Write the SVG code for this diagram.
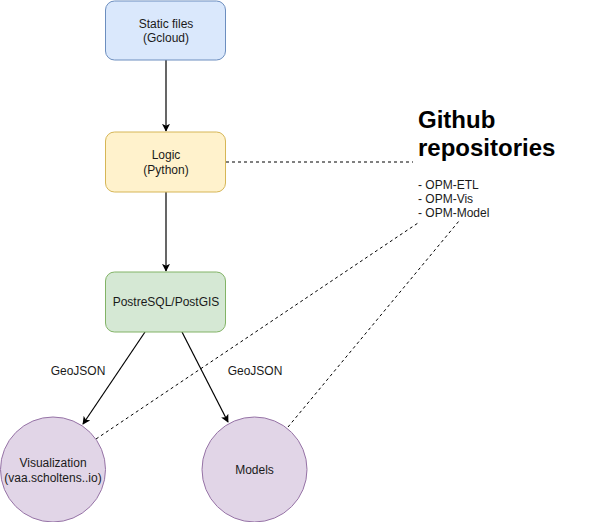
<svg xmlns="http://www.w3.org/2000/svg" width="605" height="522" viewBox="0 0 605 522">
<defs>
<style>
text{font-family:"Liberation Sans",Arial,sans-serif;font-size:12px;fill:#1a1a1a}
.c{text-anchor:middle}
.edge{stroke:#000;stroke-width:1.2;fill:none}
.dash{stroke:#000;stroke-width:1;fill:none;stroke-dasharray:3 3}
.title{font-size:24px;font-weight:bold;fill:#000}
</style>
<marker id="arr" viewBox="0 0 10 10" refX="9" refY="5" markerWidth="8" markerHeight="8" markerUnits="userSpaceOnUse" orient="auto">
<path d="M0,0 L10,5 L0,10 L2.5,5 Z" fill="#000"/>
</marker>
</defs>
<rect width="605" height="522" fill="#fff"/>
<g id="connectors">
<line class="edge" x1="166" y1="60" x2="166" y2="131" marker-end="url(#arr)"/>
<line class="edge" x1="166" y1="192" x2="166" y2="271" marker-end="url(#arr)"/>
<line class="edge" x1="145" y1="332" x2="83" y2="424" marker-end="url(#arr)"/>
<line class="edge" x1="182" y1="332" x2="228" y2="422" marker-end="url(#arr)"/>
<line class="dash" x1="226" y1="162" x2="413" y2="162"/>
<line class="dash" x1="96" y1="439" x2="418" y2="223"/>
<line class="dash" x1="288" y1="427" x2="459" y2="221"/>
<text class="c" x="78" y="375">GeoJSON</text>
<text class="c" x="255" y="375">GeoJSON</text>
</g>
<g id="static">
<rect x="105.5" y="1" width="120" height="59" rx="9" fill="#dae8fc" stroke="#6c8ebf"/>
<text class="c" x="166" y="28">Static files</text>
<text class="c" x="166" y="42">(Gcloud)</text>
</g>
<g id="logic">
<rect x="105.5" y="132" width="120" height="60" rx="9" fill="#fff2cc" stroke="#d6b656"/>
<text class="c" x="166" y="159">Logic</text>
<text class="c" x="166" y="174">(Python)</text>
</g>
<g id="postgres">
<rect x="105.5" y="272" width="120" height="60" rx="9" fill="#d5e8d4" stroke="#82b366"/>
<text class="c" x="166" y="306">PostreSQL/PostGIS</text>
</g>
<g id="visualization">
<circle cx="53" cy="469.5" r="52.5" fill="#e1d5e7" stroke="#9673a6"/>
<text class="c" x="53" y="467">Visualization</text>
<text class="c" x="53" y="482">(vaa.scholtens..io)</text>
</g>
<g id="models">
<circle cx="254.5" cy="469.5" r="52.5" fill="#e1d5e7" stroke="#9673a6"/>
<text class="c" x="254.5" y="474">Models</text>
</g>
<g id="github">
<text class="title" x="418" y="128">Github</text>
<text class="title" x="418" y="156">repositories</text>
<text x="418" y="189">- OPM-ETL</text>
<text x="418" y="203">- OPM-Vis</text>
<text x="418" y="217">- OPM-Model</text>
</g>
</svg>
